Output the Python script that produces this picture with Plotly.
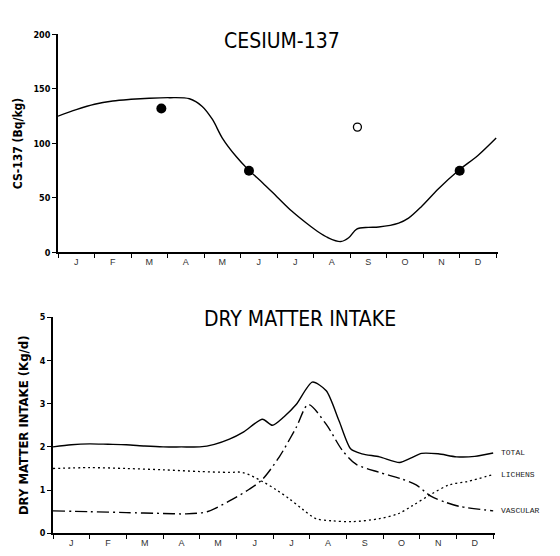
import plotly.graph_objects as go

months = ["J", "F", "M", "A", "M", "J", "J", "A", "S", "O", "N", "D"]

# Cesium-137 fitted curve (month position, Bq/kg)
cs_x = [0.0, 0.5, 1.0, 1.5, 2.0, 2.5, 3.05, 3.6, 3.95, 4.23, 4.5, 4.88, 5.21, 5.6, 6.0, 6.4,
        6.8, 7.1, 7.4, 7.74, 7.96, 8.18, 8.5, 8.78, 9.33, 9.6, 9.95, 10.42, 10.96, 11.5, 12.0]
cs_y = [125, 131, 136, 139, 140.5, 141.5, 142, 141, 134, 122, 105, 88, 76, 64, 51, 38,
        27, 19.5, 13.5, 10, 13.5, 21.5, 23, 23.4, 27, 31.5, 42, 58.5, 75, 89, 105]

# Measured points
pts_filled_x = [2.83, 5.23, 11.0]
pts_filled_y = [132, 75, 75]
pts_open_x = [8.2]
pts_open_y = [115]

# Dry matter intake (kg/d)
tot_x = [0.0, 0.5, 1.0, 1.5, 2.0, 2.5, 3.0, 3.5, 4.0, 4.4, 4.81, 5.2, 5.71, 5.98, 6.3, 6.63,
         7.07, 7.45, 7.8, 8.12, 8.42, 8.9, 9.45, 9.75, 10.05, 10.5, 11.0, 11.5, 12.0]
tot_y = [2.0, 2.05, 2.07, 2.06, 2.05, 2.02, 2.0, 2.0, 2.0, 2.06, 2.18, 2.35, 2.64, 2.5, 2.7, 2.98,
         3.5, 3.3, 2.6, 1.95, 1.84, 1.77, 1.64, 1.74, 1.85, 1.84, 1.77, 1.78, 1.86]

lic_x = [0.0, 1.0, 2.0, 3.0, 4.0, 4.81, 5.16, 5.71, 6.1, 6.44, 6.8, 7.17, 7.6, 8.15, 8.9, 9.4,
         9.8, 10.3, 10.8, 11.3, 12.0]
lic_y = [1.5, 1.52, 1.5, 1.47, 1.43, 1.41, 1.41, 1.2, 1.0, 0.8, 0.56, 0.34, 0.29, 0.27, 0.34,
         0.45, 0.64, 0.9, 1.12, 1.2, 1.36]

vas_x = [0.0, 1.0, 2.0, 3.0, 3.6, 4.2, 4.81, 5.35, 5.71, 6.17, 6.63, 6.96, 7.45, 7.88, 8.26,
         8.9, 9.5, 9.9, 10.3, 10.7, 11.1, 12.0]
vas_y = [0.52, 0.5, 0.48, 0.46, 0.45, 0.5, 0.75, 1.02, 1.25, 1.77, 2.45, 2.98, 2.52, 1.93, 1.6,
         1.41, 1.26, 1.12, 0.86, 0.72, 0.62, 0.52]

series_labels = ["TOTAL", "LICHENS", "VASCULAR"]
series_end = [tot_y[-1], lic_y[-1], vas_y[-1]]

cs_ticks = [0, 50, 100, 150, 200]
dm_ticks = [0, 1, 2, 3, 4, 5]

BOLD = "Liberation Sans Narrow, DejaVu Sans Condensed, Arial Narrow, sans-serif"

fig = go.Figure()
ln = dict(color="black", width=1.4, shape="spline", smoothing=0.9)

fig.add_trace(go.Scatter(x=cs_x, y=cs_y, mode="lines", line=ln, xaxis="x", yaxis="y", showlegend=False))
fig.add_trace(go.Scatter(x=pts_filled_x, y=pts_filled_y, mode="markers",
                         marker=dict(color="black", size=10), xaxis="x", yaxis="y", showlegend=False))
fig.add_trace(go.Scatter(x=pts_open_x, y=pts_open_y, mode="markers",
                         marker=dict(color="white", size=8, line=dict(color="black", width=1.3)),
                         xaxis="x", yaxis="y", showlegend=False))

fig.add_trace(go.Scatter(x=tot_x, y=tot_y, mode="lines", line=dict(ln, smoothing=0.7),
                         xaxis="x2", yaxis="y2", showlegend=False))
fig.add_trace(go.Scatter(x=lic_x, y=lic_y, mode="lines",
                         line=dict(color="black", width=1.3, shape="spline", smoothing=0.9, dash="2px,3px"),
                         xaxis="x2", yaxis="y2", showlegend=False))
fig.add_trace(go.Scatter(x=vas_x, y=vas_y, mode="lines",
                         line=dict(color="black", width=1.4, shape="spline", smoothing=0.8, dash="12px,4px,2px,4px"),
                         xaxis="x2", yaxis="y2", showlegend=False))

for lab, yv in zip(series_labels, series_end):
    fig.add_annotation(x=12, y=yv, xref="x2", yref="y2", text=lab, showarrow=False,
                       xanchor="left", xshift=6,
                       font=dict(family="Liberation Mono, DejaVu Sans Mono, monospace", size=8, color="#222"))

month_pos = [i + 0.5 for i in range(12)]
bounds = list(range(13))

def xaxis_cfg(domain, anchor):
    return dict(domain=domain, anchor=anchor, range=[0, 12.05], showline=True, linecolor="black",
                linewidth=1.6, showgrid=False, zeroline=False, tickvals=month_pos, ticktext=months,
                ticks="", tickfont=dict(family="Liberation Sans, sans-serif", size=9, color="#333"),
                minor=dict(tickvals=bounds, ticks="outside", ticklen=4, tickcolor="black", tickwidth=1.3))

def yaxis_cfg(domain, anchor, rng, ticks, title, tsize):
    return dict(domain=domain, anchor=anchor, range=rng, showline=True, linecolor="black", linewidth=1.6,
                showgrid=False, zeroline=False, tickvals=ticks, ticks="outside", ticklen=4,
                tickcolor="black", tickwidth=1.3,
                tickfont=dict(family=BOLD, size=9, color="black", weight="bold"),
                title=dict(text=title, font=dict(family=BOLD, size=tsize, color="black", weight="bold"),
                           standoff=8))

fig.update_layout(
    width=560, height=556, autosize=False,
    margin=dict(l=0, r=0, t=0, b=0),
    paper_bgcolor="white", plot_bgcolor="white",
    xaxis=xaxis_cfg([58 / 560, 498 / 560], "y"),
    yaxis=yaxis_cfg([1 - 252 / 556, 1 - 30 / 556], "x", [0, 200], cs_ticks, "CS-137 (Bq/kg)", 12),
    xaxis2=xaxis_cfg([53 / 560, 495 / 560], "y2"),
    yaxis2=yaxis_cfg([1 - 538 / 556, 1 - 318 / 556], "x2", [0, 5], dm_ticks, "DRY MATTER INTAKE (Kg/d)", 13),
)

fig.add_annotation(x=282 / 560, y=1 - 22 / 556, xref="paper", yref="paper", text="CESIUM-137",
                   showarrow=False, font=dict(family=BOLD, size=21, color="black"))
fig.add_annotation(x=300 / 560, y=1 - 320 / 556, xref="paper", yref="paper", text="DRY MATTER INTAKE",
                   showarrow=False, font=dict(family=BOLD, size=21, color="black"))

fig.write_html("out.html")
